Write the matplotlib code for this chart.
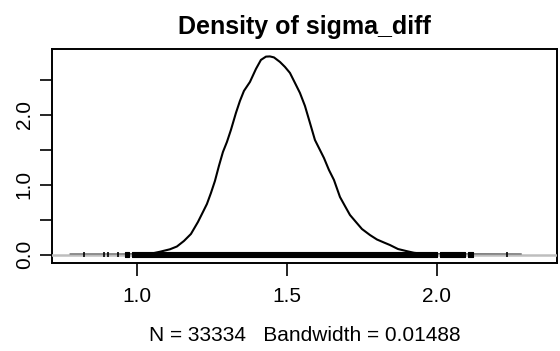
import numpy as np
import matplotlib
matplotlib.use("Agg")
import matplotlib.pyplot as plt

# density curve (x, density)
dens_x = [0.78, 0.95, 1.02, 1.0443, 1.0777, 1.1110, 1.1343, 1.1577, 1.1810, 1.2043,
          1.2210, 1.2343, 1.2477, 1.2610, 1.2743, 1.2877, 1.3010, 1.3143, 1.3310,
          1.3443, 1.3577, 1.3777, 1.3977, 1.4143, 1.4310, 1.4443, 1.4577, 1.4777,
          1.4943, 1.5110, 1.5277, 1.5443, 1.5610, 1.5777, 1.5943, 1.6110, 1.6243,
          1.6410, 1.6577, 1.6777, 1.6943, 1.7110, 1.7310, 1.7510, 1.7777, 1.8010,
          1.8243, 1.8443, 1.8710, 1.8977, 1.9243, 1.9610, 2.00, 2.10, 2.28]
dens_y = [0.0, 0.0, 0.003, 0.01, 0.041, 0.076, 0.116, 0.195, 0.295, 0.466,
          0.609, 0.724, 0.881, 1.053, 1.268, 1.468, 1.611, 1.783, 2.026,
          2.197, 2.341, 2.469, 2.655, 2.784, 2.831, 2.834, 2.820, 2.755,
          2.684, 2.598, 2.455, 2.312, 2.126, 1.883, 1.639, 1.496, 1.382,
          1.210, 1.067, 0.824, 0.695, 0.567, 0.466, 0.366, 0.280, 0.216,
          0.173, 0.137, 0.080, 0.052, 0.026, 0.009, 0.003, 0.001, 0.0]

# rug: isolated observations and densely packed stretches
rug_points = [0.825, 0.891, 0.905, 0.939, 2.233]
rug_spans = [(0.961, 0.975), (0.983, 2.000), (2.011, 2.094), (2.105, 2.122)]

x_ticks = [1.0, 1.5, 2.0]
x_ticklabels = ["1.0", "1.5", "2.0"]
y_ticks = [0.0, 0.5, 1.0, 1.5, 2.0, 2.5]
y_ticklabels = ["0.0", "", "1.0", "", "2.0", ""]

title = "Density of sigma_diff"
xlabel = "N = 33334   Bandwidth = 0.01488"

plt.rcParams["font.family"] = ["Liberation Sans", "DejaVu Sans"]

fig = plt.figure(figsize=(5.6, 3.51), dpi=100)
ax = fig.add_axes([51.7 / 560, 1 - 263 / 351, (557 - 51.7) / 560, (263 - 49) / 351])

ax.plot(dens_x, dens_y, color="black", lw=1.5, zorder=2)

# zero line goes over the curve, rug over everything
ax.axhline(0, color="#bebebe", lw=1.8, zorder=3)

h = 0.034
ax.vlines(rug_points, -h, h, color="black", lw=1.2, zorder=4)
ax.broken_barh([(a, b - a) for a, b in rug_spans], (-h, 2 * h),
               facecolor="black", edgecolor="black", lw=0.8, zorder=4)

ax.set_xlim(0.717, 2.401)
ax.set_ylim(-0.12, 2.94)

ax.set_xticks(x_ticks)
ax.set_xticklabels(x_ticklabels)
ax.set_yticks(y_ticks)
ax.set_yticklabels(y_ticklabels, rotation=90, va="center")

ax.tick_params(axis="both", direction="out", length=9, width=1.2,
               labelsize=15, color="black")
ax.tick_params(axis="x", pad=8)
ax.tick_params(axis="y", pad=4)

for s in ax.spines.values():
    s.set_linewidth(1.4)

ax.set_title(title, fontsize=18, fontweight="bold", pad=11)
ax.set_xlabel(xlabel, fontsize=15, labelpad=15)

fig.savefig("out.png", dpi=100)
